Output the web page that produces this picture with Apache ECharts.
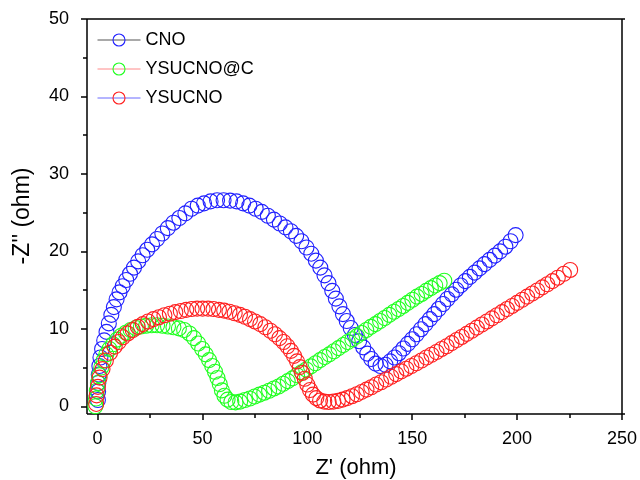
<!DOCTYPE html>
<html>
<head>
<meta charset="utf-8">
<script src="https://cdn.jsdelivr.net/npm/echarts@6/dist/echarts.min.js"></script>
<style>html,body{margin:0;padding:0;background:#fff}#c{width:640px;height:480px}</style>
</head>
<body>
<div id="c"></div>
<script>
const seriesNames = ['CNO', 'YSUCNO@C', 'YSUCNO'];
const xTitle = "Z' (ohm)";
const yTitle = "-Z'' (ohm)";
const xTicks = [0, 50, 100, 150, 200, 250];
const xMinorTicks = [25, 75, 125, 175, 225];
const yTicks = [0, 10, 20, 30, 40, 50];
const yMinorTicks = [5, 15, 25, 35, 45];
const xRange = [-5, 250];
const yRange = [-1, 50];

const cnoData = [
  [0.2,0.8],[0.3,1.9],[0.4,3.0],[0.6,4.1],[0.9,5.2],[1.4,6.3],[2.2,7.4],[3.2,8.5],[4.3,9.6],[5.4,10.7],
  [6.6,11.8],[7.8,12.8],[9.1,13.8],[10.5,14.7],[12.0,15.5],[13.7,16.3],[15.5,17.1],[17.4,17.9],[19.4,18.7],
  [21.5,19.5],[23.7,20.2],[26.0,20.9],[28.4,21.6],[30.9,22.3],[33.5,23.0],[36.2,23.7],[39.0,24.3],[41.9,24.9],
  [44.8,25.5],[47.8,25.9],[50.8,26.2],[53.9,26.45],[57.0,26.6],[60.1,26.6],[63.2,26.55],[66.3,26.45],[69.4,26.2],
  [72.4,25.9],[75.4,25.5],[78.3,25.1],[81.2,24.6],[84.1,24.1],[86.9,23.6],[89.6,23.1],[92.2,22.6],[94.7,22.0],
  [97.2,21.3],[99.6,20.5],[101.9,19.7],[104.1,18.8],[106.2,17.9],[108.2,16.9],[110.1,15.9],[111.9,14.9],
  [113.6,13.9],[115.3,12.9],[117.0,11.9],[118.8,11.0],[120.7,10.1],[122.7,9.2],[124.7,8.4],[126.7,7.6],
  [128.6,6.8],[130.5,6.1],[132.6,5.5],[134.9,5.2],[137.3,5.35],[139.5,5.8],[141.6,6.3],[143.7,6.85],[145.8,7.45],
  [147.9,8.05],[150.0,8.65],[152.1,9.3],[154.2,9.95],[156.3,10.6],[158.4,11.25],[160.5,11.9],[162.6,12.55],
  [164.7,13.2],[166.8,13.85],[168.9,14.45],[171.0,15.05],[173.1,15.6],[175.3,16.15],[177.5,16.7],[179.8,17.25],
  [182.1,17.8],[184.5,18.35],[186.9,18.9],[189.4,19.45],[191.9,20.0],[194.4,20.6],[196.9,21.3],[199.3,22.1]
];

const ysucnoCData = [
  [-1.0,0.0],[-0.7,1.0],[-0.3,2.0],[0.2,3.0],[0.9,4.0],[1.8,5.0],[2.9,5.9],[4.2,6.7],[5.7,7.4],[7.4,8.0],
  [9.3,8.6],[11.3,9.1],[13.5,9.5],[15.8,9.85],[18.2,10.1],[20.7,10.3],[23.2,10.4],[25.8,10.45],[28.4,10.45],
  [31.0,10.4],[33.6,10.3],[36.2,10.2],[38.8,10.05],[41.3,9.85],[43.8,9.4],[46.0,8.8],[48.0,8.1],[49.9,7.4],
  [51.6,6.7],[53.2,5.95],[54.7,5.2],[56.0,4.45],[57.2,3.65],[58.3,2.85],[59.3,2.05],[60.5,1.35],[62.0,0.85],
  [63.8,0.55],[65.8,0.5],[68.0,0.6],[70.3,0.8],[72.6,1.0],[74.9,1.25],[77.2,1.5],[79.5,1.75],[81.8,2.0],
  [84.1,2.3],[86.3,2.55],[88.5,2.9],[90.7,3.25],[92.9,3.6],[95.1,4.0],[97.3,4.4],[99.5,4.75],[101.7,5.15],
  [103.9,5.55],[106.1,5.95],[108.3,6.35],[110.5,6.7],[112.7,7.1],[114.9,7.5],[117.1,7.9],[119.3,8.3],
  [121.5,8.65],[123.7,9.05],[125.9,9.45],[128.1,9.85],[130.3,10.25],[132.5,10.6],[134.7,11.0],[136.9,11.4],
  [139.1,11.8],[141.3,12.2],[143.5,12.55],[145.7,12.95],[147.9,13.35],[150.1,13.75],[152.3,14.15],
  [154.5,14.5],[156.7,14.9],[158.9,15.25],[161.0,15.6],[163.1,15.9],[165.3,16.2]
];

const ysucnoData = [
  [-0.6,0.3],[-0.4,1.4],[0.2,2.5],[1.0,3.7],[2.4,4.8],[4.0,5.9],[6.0,6.9],[8.2,7.7],[10.1,8.3],[12.1,8.9],
  [14.4,9.4],[16.8,9.85],[19.2,10.25],[21.6,10.6],[24.1,10.95],[26.7,11.25],[29.3,11.5],[31.9,11.75],
  [34.5,11.95],[37.1,12.15],[39.7,12.3],[42.3,12.45],[44.9,12.55],[47.5,12.6],[50.1,12.6],[52.7,12.6],
  [55.3,12.55],[57.9,12.45],[60.4,12.35],[62.9,12.2],[65.4,12.0],[67.9,11.8],[70.3,11.55],[72.7,11.25],
  [75.1,10.95],[77.6,10.6],[80.0,10.2],[82.4,9.75],[84.6,9.3],[86.7,8.8],[88.7,8.3],[90.5,7.75],[92.2,7.15],
  [93.7,6.5],[95.1,5.8],[96.4,5.05],[97.6,4.3],[98.8,3.55],[100.0,2.8],[101.3,2.1],[102.7,1.5],[104.3,1.05],
  [106.1,0.75],[108.1,0.6],[110.2,0.55],[112.4,0.6],[114.6,0.7],[116.8,0.85],[119.0,1.05],[121.3,1.3],
  [123.6,1.55],[125.9,1.85],[128.2,2.15],[130.5,2.45],[132.8,2.8],[135.2,3.1],[137.6,3.45],[140.0,3.8],
  [142.4,4.15],[144.8,4.5],[147.2,4.85],[149.6,5.2],[152.0,5.55],[154.4,5.9],[156.8,6.3],[159.2,6.65],
  [161.6,7.0],[164.0,7.4],[166.4,7.75],[168.8,8.15],[171.2,8.55],[173.6,8.95],[176.0,9.35],[178.4,9.75],
  [180.8,10.15],[183.2,10.55],[185.6,10.95],[188.0,11.35],[190.4,11.75],[192.8,12.15],[195.2,12.55],
  [197.6,12.95],[200.0,13.35],[202.4,13.75],[204.8,14.15],[207.2,14.55],[209.6,14.95],[212.0,15.35],
  [214.4,15.75],[216.8,16.15],[219.4,16.6],[222.3,17.1],[225.3,17.6]
];

const markerColors = ['#2020ff', '#20ff20', '#ff2020'];
const legendLineColors = ['#555555', '#ff8a8a', '#6a6aff'];
const allData = [cnoData, ysucnoCData, ysucnoData];

const font = 'Liberation Sans, Arial, sans-serif';
const gridBox = {left: 87, right: 15, top: 19, bottom: 66};
const plotW = 640 - gridBox.left - gridBox.right;
const plotH = 480 - gridBox.top - gridBox.bottom;
const chart = echarts.init(document.getElementById('c'));

const series = seriesNames.map((name, i) => ({
  name: name,
  type: 'line',
  xAxisIndex: 0,
  yAxisIndex: 0,
  data: allData[i],
  symbol: 'circle',
  symbolSize: 15,
  showSymbol: true,
  showAllSymbol: true,
  lineStyle: {width: 0, opacity: 0},
  itemStyle: {color: 'rgba(255,255,255,0)', borderColor: markerColors[i], borderWidth: 1.1},
  emphasis: {disabled: true}
}));

const blackLine = {color: '#000', width: 1.5};

function baseAxis(pos, range, opts) {
  return Object.assign({
    type: 'value', min: range[0], max: range[1], position: pos,
    axisLine: {show: false, onZero: false},
    axisTick: {show: false},
    axisLabel: {show: false},
    splitLine: {show: false}
  }, opts);
}
function tickOnly(pos, range, values, len, inside) {
  return baseAxis(pos, range, {
    axisTick: {show: true, inside: !!inside, length: len, lineStyle: blackLine, customValues: values}
  });
}

chart.setOption({
  animation: false,
  grid: Object.assign({show: false}, gridBox),
  legend: {
    orient: 'vertical',
    left: 97,
    top: 31,
    padding: 0,
    itemWidth: 43,
    itemHeight: 15,
    itemGap: 11,
    textStyle: {fontFamily: font, fontSize: 18, lineHeight: 16, color: '#000'},
    data: seriesNames.map((n, i) => ({
      name: n,
      itemStyle: {color: 'rgba(255,255,255,0)', borderColor: markerColors[i], borderWidth: 1.1},
      lineStyle: {color: legendLineColors[i], width: 1, opacity: 1}
    }))
  },
  xAxis: [
    baseAxis('bottom', xRange, {
      axisLabel: {show: true, fontFamily: font, fontSize: 18, color: '#000', margin: 16, customValues: xTicks}
    }),
    tickOnly('bottom', xRange, xTicks, 6),
    tickOnly('bottom', xRange, xMinorTicks, 4),
    tickOnly('bottom', xRange, xRange, plotH, true)
  ],
  yAxis: [
    baseAxis('left', yRange, {
      axisLabel: {show: true, fontFamily: font, fontSize: 18, color: '#000', margin: 18, customValues: yTicks}
    }),
    tickOnly('left', yRange, yTicks, 6),
    tickOnly('left', yRange, yMinorTicks, 4),
    tickOnly('left', yRange, yRange, plotW, true)
  ],
  graphic: [
    {type: 'text', x: 356, y: 468, silent: true,
      style: {text: xTitle, font: '22px ' + font, fill: '#000', align: 'center', verticalAlign: 'middle'}},
    {type: 'text', x: 23, y: 216, rotation: Math.PI / 2, silent: true,
      style: {text: yTitle, font: '23px ' + font, fill: '#000', align: 'center', verticalAlign: 'middle'}}
  ],
  series: series
});
</script>
</body>
</html>
